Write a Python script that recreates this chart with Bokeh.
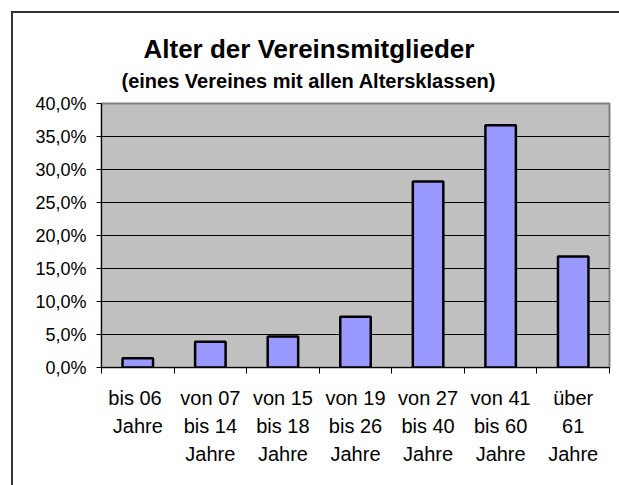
from bokeh.plotting import figure
from bokeh.models import Range1d, FixedTicker, Title, ColumnDataSource
from bokeh.embed import file_html
from bokeh.resources import INLINE

# ---- data ----
categories = ["bis  06\nJahre", "von 07\nbis 14\nJahre", "von 15\nbis 18\nJahre",
              "von 19\nbis 26\nJahre", "von 27\nbis 40\nJahre", "von 41\nbis 60\nJahre",
              "über\n61\nJahre"]
shares = [1.4, 3.9, 4.7, 7.7, 28.2, 36.7, 16.8]
y_ticks = [0, 5, 10, 15, 20, 25, 30, 35, 40]
y_tick_labels = ["0,0%", "5,0%", "10,0%", "15,0%", "20,0%", "25,0%", "30,0%", "35,0%", "40,0%"]
title_text = "Alter der Vereinsmitglieder"
subtitle_text = "(eines Vereines mit allen Altersklassen)"

FONT = "Liberation Sans"

n = len(categories)
centers = [i + 0.5 for i in range(n)]
src = ColumnDataSource(dict(x=centers, top=shares))

p = figure(width=619, height=485, output_backend="svg", toolbar_location=None,
           title_location=None,
           x_range=Range1d(0, n), y_range=Range1d(0, 40),
           min_border_left=101, min_border_right=10, min_border_top=103, min_border_bottom=118)
p.background_fill_color = "#C0C0C0"
p.border_fill_color = None
p.outline_line_color = "#808080"
p.outline_line_width = 2

# outer chart-area border (top and left edge visible; the rest lies outside the picture)
p.styles = {
    "background-color": "white",
    "background-image": "linear-gradient(#333333, #333333), linear-gradient(#333333, #333333)",
    "background-size": "800px 2px, 2px 800px",
    "background-position": "11px 11px, 11px 11px",
    "background-repeat": "no-repeat",
}

p.vbar(x="x", top="top", width=0.42, bottom=0, source=src,
       fill_color="#9999FF", line_color="black", line_width=2.5)

# y axis
p.yaxis.ticker = FixedTicker(ticks=y_ticks)
p.yaxis.major_label_overrides = {t: l for t, l in zip(y_ticks, y_tick_labels)}
p.yaxis.minor_tick_line_color = None
p.yaxis.major_tick_out = 5
p.yaxis.major_tick_in = 0
p.yaxis.axis_line_color = "black"
p.yaxis.major_tick_line_color = "black"
p.yaxis.major_label_text_font = FONT
p.yaxis.major_label_text_font_size = "18px"
p.yaxis.major_label_text_color = "black"
p.yaxis.major_label_standoff = 10

# x axis: labels at category centres, tick marks at category boundaries
p.xaxis.ticker = FixedTicker(ticks=centers, minor_ticks=list(range(n + 1)))
p.xaxis.major_label_overrides = {c: lab for c, lab in zip(centers, categories)}
p.xaxis.major_tick_out = 0
p.xaxis.major_tick_in = 0
p.xaxis.minor_tick_out = 6
p.xaxis.minor_tick_in = 0
p.xaxis.minor_tick_line_color = "black"
p.xaxis.axis_line_color = "black"
p.xaxis.major_label_text_font = FONT
p.xaxis.major_label_text_font_size = "20px"
p.xaxis.major_label_text_color = "black"
p.xaxis.major_label_text_line_height = 1.28
p.xaxis.major_label_standoff = 13
p.xaxis.major_label_orientation = "horizontal"

p.xgrid.grid_line_color = None
p.ygrid.ticker = FixedTicker(ticks=y_ticks)
p.ygrid.grid_line_color = "black"
p.ygrid.grid_line_width = 1

# titles (first added sits closest to the plot area)
p.add_layout(Title(text=subtitle_text, align="left", offset=20, text_font=FONT,
                   text_font_size="20px", text_font_style="bold", text_color="black",
                   standoff=24), "above")
p.add_layout(Title(text=title_text, align="left", offset=42, text_font=FONT,
                   text_font_size="26px", text_font_style="bold", text_color="black",
                   standoff=-16), "above")

open("out.html", "w").write(file_html(p, INLINE))
